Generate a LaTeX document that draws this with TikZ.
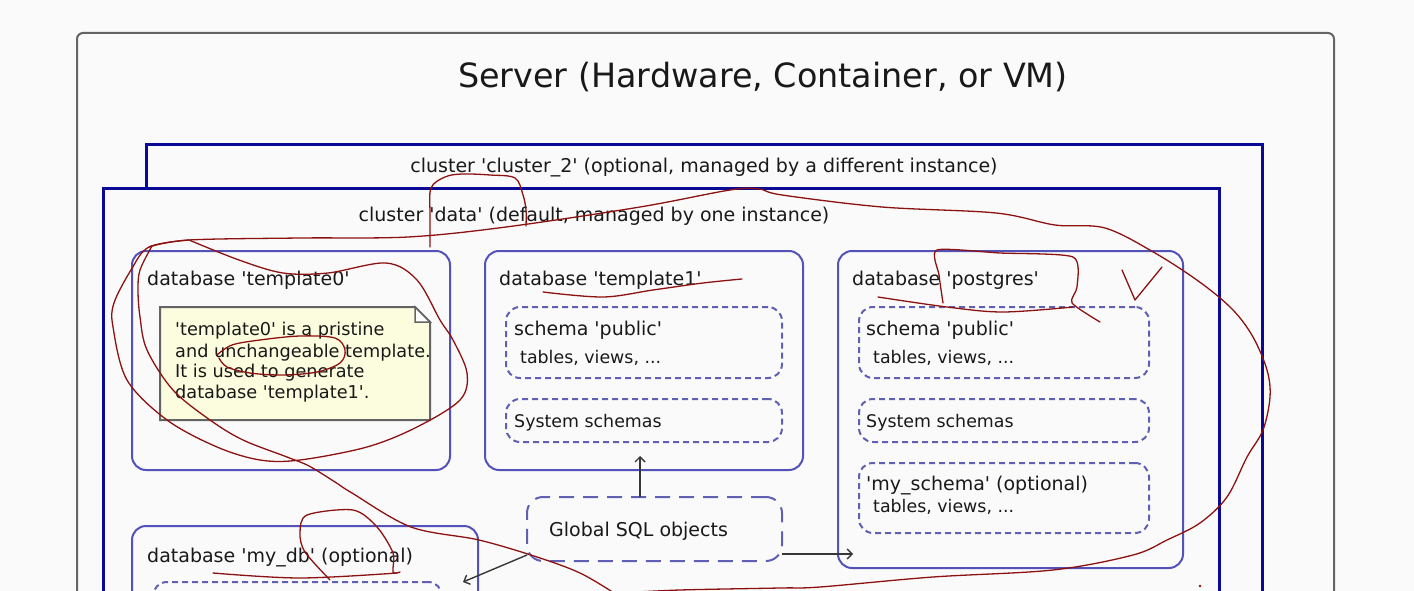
\documentclass[tikz,border=0pt]{standalone}
\usepackage{fontspec}
\newfontfamily\dvs{DejaVu Sans}
\usetikzlibrary{arrows.meta}
\newcommand\dfs[1]{\dvs\fontsize{#1}{#1}\selectfont}
\definecolor{bg}{RGB}{250,250,250}
\definecolor{srvc}{RGB}{100,100,100}
\definecolor{navy}{RGB}{10,10,150}
\definecolor{dbc}{RGB}{82,82,185}
\definecolor{dashc}{RGB}{95,95,180}
\definecolor{txt}{RGB}{25,25,25}
\definecolor{notefill}{RGB}{252,252,222}
\definecolor{notec}{RGB}{100,100,100}
\definecolor{arrc}{RGB}{55,55,55}
\definecolor{annc}{RGB}{140,18,18}
\tikzset{
  box/.style={inner sep=0, outer sep=0, anchor=north west},
  srv/.style={box, draw=srvc, line width=2pt, rounded corners=6pt},
  clus/.style={box, draw=navy, line width=3pt, fill=bg},
  dbbox/.style={box, draw=dbc, line width=2pt, rounded corners=14pt, fill=bg},
  dbox/.style={box, draw=dashc, line width=2pt, rounded corners=14pt, dash pattern=on 6pt off 4pt},
  gbox/.style={box, draw=dashc, line width=2pt, rounded corners=16pt, dash pattern=on 15pt off 9pt, fill=bg},
  notebox/.style={box},
  notedraw/.style={draw=notec, line width=2pt, fill=notefill},
  ttl/.style={inner sep=0, text=txt, font=\dfs{33.4}},
  lbl/.style={inner sep=0, text=txt, font=\dfs{19}},
  sml/.style={inner sep=0, text=txt, font=\dfs{17.4}},
  ntxt/.style={inner sep=0, text=txt, font=\dfs{17.7}, anchor=base west},
  conn/.style={draw=arrc, line width=1.4pt, -{Straight Barb[length=5pt,width=10pt]}},
  ann/.style={draw=annc, line width=1.3pt, line cap=round, line join=round},
}
\begin{document}
\begin{tikzpicture}[x=1pt,y=-1pt]
\useasboundingbox (0,0) rectangle (1414,591);
\fill[bg] (0,0) rectangle (1414,591);
\begin{scope}
\clip (0,0) rectangle (1414,591);
% server
\node[srv, minimum width=1257pt, minimum height=700pt] (server) at (77,33) {};
\node[ttl, anchor=base] (title) at (763,88) {Server (Hardware, Container, or VM)};
% clusters
\node[clus, minimum width=1116pt, minimum height=600pt] (c2) at (146,145) {};
\node[lbl, anchor=base] (c2l) at (704,173) {cluster 'cluster\_2' (optional, managed by a different instance)};
\node[clus, minimum width=1116pt, minimum height=600pt] (cd) at (103,188) {};
\node[lbl, anchor=base] (cdl) at (594,222) {cluster 'data' (default, managed by one instance)};
% template0
\node[dbbox, minimum width=318pt, minimum height=219pt] (t0) at (132,251) {};
\node[lbl, anchor=base west] (t0l) at (147,285) {database 'template0'};
\node[notebox, minimum width=270pt, minimum height=113pt] (note) at (160,307) {};
\draw[notedraw] (note.north west) -- ([xshift=-15pt]note.north east) -- ([yshift=-15pt]note.north east) -- (note.south east) -- (note.south west) -- cycle;
\draw[draw=notec, line width=1.5pt, fill=white] ([xshift=-15pt]note.north east) -- ([xshift=-15pt,yshift=-15pt]note.north east) -- ([yshift=-15pt]note.north east) -- cycle;
\node[ntxt] (n1) at (175,335) {'template0' is a pristine};
\node[ntxt] (n2) at (175,357) {and unchangeable template.};
\node[ntxt] (n3) at (175,377) {It is used to generate};
\node[ntxt] (n4) at (175,398) {database 'template1'.};
% template1
\node[dbbox, minimum width=318pt, minimum height=219pt] (t1) at (485,251) {};
\node[lbl, anchor=base west] (t1l) at (499,285) {database 'template1'};
\node[dbox, minimum width=276pt, minimum height=71pt] (t1pub) at (506,307) {};
\node[lbl, anchor=base west] (t1publ) at (514,335) {schema 'public'};
\node[sml, anchor=base west] (t1pubt) at (520,363) {tables, views, ...};
\node[dbox, minimum width=276pt, minimum height=43pt] (t1sys) at (506,399) {};
\node[sml, anchor=base west] (t1sysl) at (514,427) {System schemas};
% postgres
\node[dbbox, minimum width=345pt, minimum height=317pt] (pg) at (838,251) {};
\node[lbl, anchor=base west] (pgl) at (852,285) {database 'postgres'};
\node[dbox, minimum width=290pt, minimum height=71pt] (pgpub) at (859,307) {};
\node[lbl, anchor=base west] (pgpubl) at (866,335) {schema 'public'};
\node[sml, anchor=base west] (pgpubt) at (873,363) {tables, views, ...};
\node[dbox, minimum width=290pt, minimum height=43pt] (pgsys) at (859,399) {};
\node[sml, anchor=base west] (pgsysl) at (866,427) {System schemas};
\node[dbox, minimum width=290pt, minimum height=70pt] (pgmy) at (859,463) {};
\node[lbl, anchor=base west] (pgmyl) at (866,490) {'my\_schema' (optional)};
\node[sml, anchor=base west] (pgmyt) at (873,512) {tables, views, ...};
% my_db
\node[dbbox, minimum width=346pt, minimum height=200pt] (mydb) at (132,526) {};
\node[lbl, anchor=base west] (mydbl) at (147,562) {database 'my\_db' (optional)};
\node[dbox, minimum width=289pt, minimum height=100pt] (mydbs) at (153,582) {};
% global
\node[gbox, minimum width=255pt, minimum height=64pt] (glob) at (527,497) {};
\node[lbl, anchor=base west] (globl) at (549,536) {Global SQL objects};
% connectors
\coordinate (upEnd) at (640,456);
\coordinate (rEnd) at (853,554);
\coordinate (lEnd) at (463,582);
\draw[conn] (glob.north -| upEnd) -- (upEnd);
\draw[conn] (glob.east |- rEnd) -- (rEnd);
\draw[conn] ([yshift=6pt]glob.south west) -- (lEnd);
% hand-drawn annotations
\draw[ann] plot[smooth, tension=0.55] coordinates {(149,247) (189,240) (300,238) (408,237) (506,227) (640,207) (730,190) (759,189) (782,195) (882,207) (996,213) (1055,225) (1105,228) (1155,253) (1201,283) (1233,310) (1253,337) (1267,370) (1270,397) (1263,430) (1247,457) (1227,497) (1200,523) (1167,540) (1133,555) (1053,570) (933,577) (820,587) (780,588) (680,590) (620,593)};
\draw[ann] plot[smooth, tension=0.55] coordinates {(430,247) (430,215) (431,188) (445,177) (462,174) (490,175) (515,178) (523,195) (526,210) (526,226)};
\draw[ann] plot[smooth, tension=0.55] coordinates {(189,240) (239,260) (283,273) (328,273) (386,263) (417,280) (440,320) (453,340) (467,373) (460,400) (417,427) (367,447) (300,460) (260,460) (217,447) (167,420) (127,380) (113,327) (114,303) (131,270) (149,247) (189,240)};
\draw[ann] plot[smooth, tension=0.55] coordinates {(152,246) (140,270) (138,290) (140,317) (147,350) (173,390) (210,420) (243,440) (287,457) (309,466) (335,482) (352,493) (411,527) (479,540) (537,557) (580,573) (614,593)};
\draw[ann] plot[smooth, tension=0.55] coordinates {(217,355) (232,345) (260,340) (300,336) (335,338) (345,350) (340,363) (317,372) (283,375) (250,373) (227,367) (219,358)};
\draw[ann] plot[smooth, tension=0.55] coordinates {(543,292) (603,297) (653,290) (703,283) (742,279)};
\draw[ann] plot[smooth, tension=0.4] coordinates {(943,303) (939,275) (937,250) (1000,253) (1073,257) (1077,287) (1072,303) (1100,322)};
\draw[ann] plot[smooth, tension=0.55] coordinates {(878,297) (947,307) (1003,312) (1073,307)};
\draw[ann] (1122,270) -- (1135,300) -- (1162,267);
\draw[ann] plot[smooth, tension=0.55] coordinates {(213,573) (300,578) (397,573)};
\draw[ann] plot[smooth, tension=0.5] coordinates {(330,580) (305,552) (300,533) (307,515) (353,510) (377,527) (393,553) (393,572) (400,572)};
\fill[annc] (1200,586) circle (1.3pt);
\end{scope}
\end{tikzpicture}
\end{document}
